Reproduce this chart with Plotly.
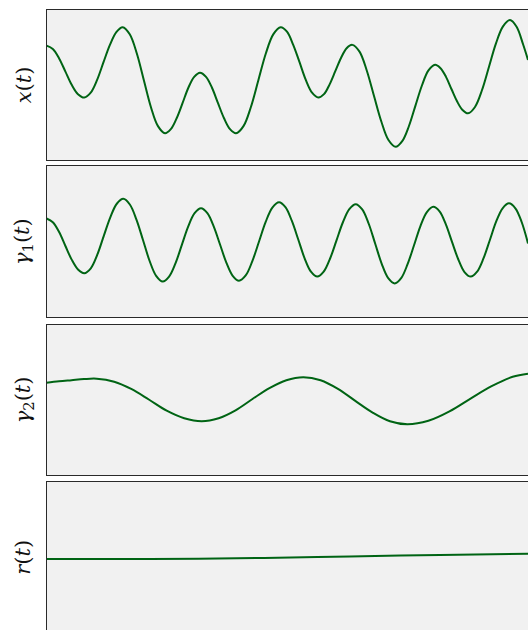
import plotly.graph_objects as go

# ---- data ----
t_x = [0.000, 0.131, 0.262, 0.393, 0.523, 0.654,
       0.785, 0.918, 1.051, 1.184, 1.317, 1.450,
       1.583, 1.729, 1.876, 2.022, 2.168, 2.315,
       2.461, 2.582, 2.703, 2.825, 2.946, 3.067,
       3.188, 3.313, 3.437, 3.562, 3.687, 3.811,
       3.936, 4.091, 4.245, 4.400, 4.555, 4.709,
       4.864, 4.994, 5.124, 5.255, 5.385, 5.515,
       5.645, 5.763, 5.880, 5.998, 6.116, 6.233,
       6.351, 6.501, 6.651, 6.802, 6.952, 7.102,
       7.252, 7.388, 7.524, 7.661, 7.797, 7.933,
       8.069, 8.183, 8.297, 8.412, 8.526, 8.640,
       8.754, 8.899, 9.045, 9.190, 9.335, 9.481,
       9.626, 9.763, 9.899, 10.000]
x_vals = [1.04, 0.95, 0.70, 0.35, 0.00, -0.25,
          -0.34, -0.21, 0.13, 0.60, 1.06, 1.40,
          1.53, 1.34, 0.83, 0.12, -0.59, -1.10,
          -1.29, -1.18, -0.89, -0.49, -0.08, 0.21,
          0.32, 0.21, -0.08, -0.49, -0.89, -1.18,
          -1.29, -1.10, -0.59, 0.12, 0.83, 1.34,
          1.53, 1.41, 1.06, 0.60, 0.13, -0.21,
          -0.34, -0.25, 0.01, 0.36, 0.71, 0.97,
          1.06, 0.88, 0.38, -0.30, -0.97, -1.47,
          -1.65, -1.50, -1.11, -0.56, -0.02, 0.38,
          0.53, 0.44, 0.21, -0.12, -0.44, -0.67,
          -0.76, -0.59, -0.14, 0.48, 1.10, 1.55,
          1.72, 1.54, 1.07, 0.66]

t_g1 = [0.000, 0.131, 0.262, 0.393, 0.523, 0.654,
        0.785, 0.920, 1.055, 1.190, 1.325, 1.460,
        1.595, 1.731, 1.868, 2.004, 2.140, 2.277,
        2.413, 2.546, 2.678, 2.811, 2.944, 3.076,
        3.209, 3.341, 3.472, 3.604, 3.735, 3.867,
        3.998, 4.137, 4.275, 4.414, 4.552, 4.691,
        4.829, 4.962, 5.094, 5.227, 5.359, 5.492,
        5.624, 5.757, 5.890, 6.023, 6.156, 6.289,
        6.422, 6.557, 6.692, 6.827, 6.962, 7.097,
        7.232, 7.366, 7.499, 7.633, 7.766, 7.900,
        8.033, 8.163, 8.292, 8.422, 8.551, 8.681,
        8.810, 8.943, 9.075, 9.208, 9.340, 9.473,
        9.605, 9.738, 9.870, 10.000]
g1_vals = [0.61, 0.51, 0.25, -0.12, -0.48, -0.74,
           -0.84, -0.71, -0.35, 0.15, 0.64, 1.00,
           1.13, 0.98, 0.58, 0.04, -0.51, -0.91,
           -1.06, -0.93, -0.58, -0.09, 0.40, 0.75,
           0.88, 0.75, 0.40, -0.08, -0.56, -0.91,
           -1.04, -0.90, -0.52, 0.00, 0.52, 0.90,
           1.04, 0.91, 0.55, 0.06, -0.44, -0.80,
           -0.93, -0.80, -0.45, 0.03, 0.51, 0.86,
           0.99, 0.85, 0.47, -0.06, -0.59, -0.97,
           -1.11, -0.97, -0.60, -0.10, 0.41, 0.78,
           0.92, 0.80, 0.46, -0.01, -0.47, -0.81,
           -0.93, -0.80, -0.45, 0.04, 0.53, 0.88,
           1.01, 0.88, 0.51, -0.05]

t_g2 = [0.000, 0.260, 0.520, 0.780, 1.043,
        1.406, 1.770, 2.133, 2.496, 2.860,
        3.223, 3.575, 3.926, 4.278, 4.630, 4.981,
        5.333, 5.693, 6.053, 6.413, 6.773, 7.133,
        7.493, 7.931, 8.369, 8.807, 9.244, 9.682, 10.000]
g2_vals = [0.45, 0.49, 0.52, 0.55, 0.56,
           0.48, 0.28, 0.00, -0.29, -0.49,
           -0.57, -0.49, -0.28, 0.02, 0.31, 0.52,
           0.60, 0.52, 0.29, -0.03, -0.34, -0.57,
           -0.65, -0.56, -0.31, 0.03, 0.36, 0.61, 0.69]

t_r = [0.0, 2.15, 4.52, 6.30, 8.17, 10.0]
r_vals = [-0.05, -0.05, -0.02, 0.02, 0.06, 0.09]

labels = ["<i>x</i>(<i>t</i>)", "<i>γ</i><sub>1</sub>(<i>t</i>)",
          "<i>γ</i><sub>2</sub>(<i>t</i>)", "<i>r</i>(<i>t</i>)"]

# ---- style ----
W, H = 528, 630
LINE = "#006414"
BG = "#f1f1f1"
BORDER = "#2a2a2a"
x_dom = [46.5 / W, 1.0]
panels_px = [(9.5, 160.0), (166.0, 317.0), (324.5, 475.0), (482.0, 630.0)]
y_ranges = [[-2, 2], [-2, 2], [-2, 2], [(557.25 - 630) / 37.6, 2.0]]

series = [(t_x, x_vals), (t_g1, g1_vals), (t_g2, g2_vals), (t_r, r_vals)]

fig = go.Figure()
layout = dict(width=W, height=H, margin=dict(l=0, r=0, t=0, b=0),
              paper_bgcolor="white", plot_bgcolor=BG, showlegend=False)

for i, ((tt, vv), (ptop, pbot)) in enumerate(zip(series, panels_px)):
    n = i + 1
    xa = "x" if n == 1 else f"x{n}"
    ya = "y" if n == 1 else f"y{n}"
    fig.add_trace(go.Scatter(x=tt, y=vv, mode="lines", xaxis=xa, yaxis=ya,
                             line=dict(color=LINE, width=2, shape="spline", smoothing=1.0),
                             hoverinfo="skip"))
    last = (n == 4)
    layout["xaxis" if n == 1 else f"xaxis{n}"] = dict(
        domain=x_dom, range=[0, 10], anchor=ya, showticklabels=False, ticks="",
        showgrid=False, zeroline=False, showline=True, linecolor=BORDER, linewidth=1,
        mirror=not last, side="top" if last else "bottom")
    layout["yaxis" if n == 1 else f"yaxis{n}"] = dict(
        domain=[1 - pbot / H, 1 - ptop / H], range=y_ranges[i], anchor=xa,
        showticklabels=False, ticks="", showgrid=False, zeroline=False,
        showline=True, linecolor=BORDER, linewidth=1, mirror=False)

fig.update_layout(**layout)

centers = [84.75, 241.5, 399.75, 557.25]
for lab, c in zip(labels, centers):
    fig.add_annotation(text=lab, xref="paper", yref="paper", x=23.5 / W, y=1 - c / H,
                       xanchor="center", yanchor="middle", textangle=-90, showarrow=False,
                       font=dict(family="DejaVu Serif", size=21, color="#111111"))

fig.write_html(
    "out.html",
    config={"displayModeBar": False},
    post_script=("document.documentElement.style.margin='0';"
                 "document.body.style.margin='0';"
                 "document.documentElement.style.overflow='hidden';"
                 "document.body.style.overflow='hidden';"),
)
